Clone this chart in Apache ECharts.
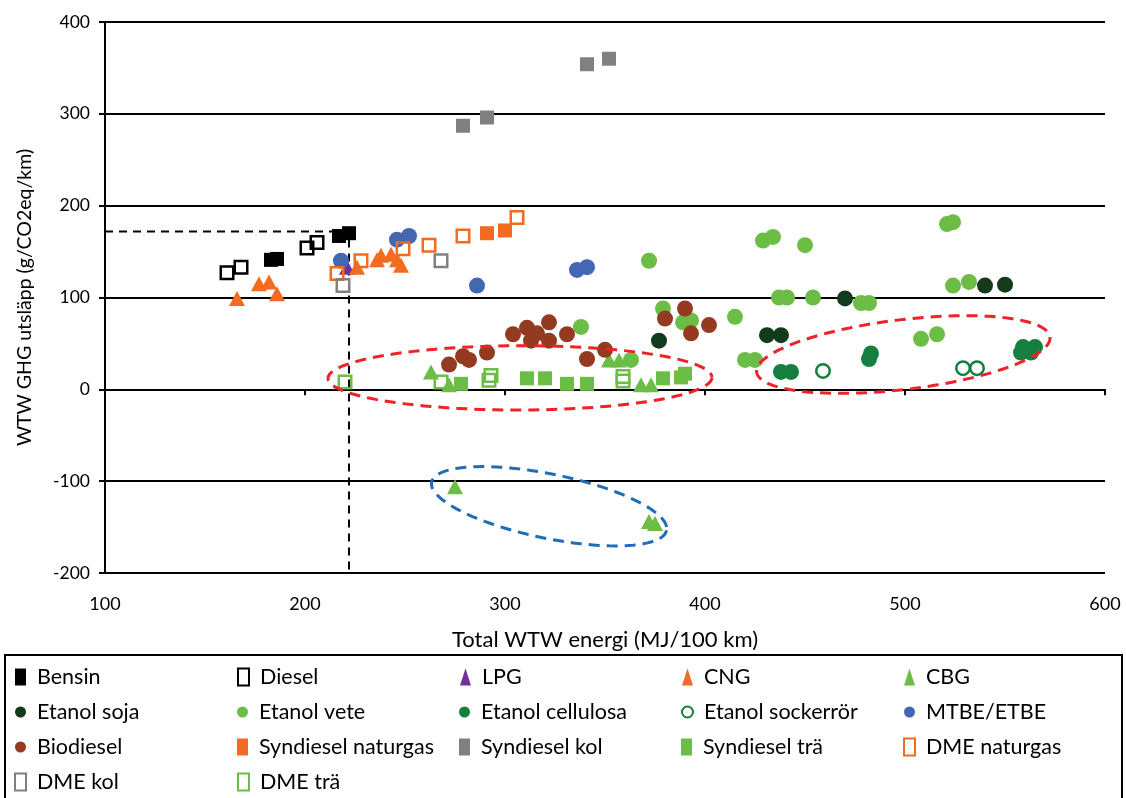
<!DOCTYPE html>
<html><head><meta charset="utf-8">
<script src="https://cdn.jsdelivr.net/npm/echarts@6/dist/echarts.min.js"></script>
<style>html,body{margin:0;padding:0;background:#fff}#c{width:1126px;height:798px}</style>
</head><body><div id="c"></div>
<script>
// ---- data (x: Total WTW energi MJ/100km, y: WTW GHG g CO2eq/km) ----
const bensin = [[183,141],[186,142],[217,167],[222,170]];
const diesel = [[161,127],[168,133],[201,154],[206,160]];
const lpg = [[221,133]];
const cng = [[166,99],[177,115],[182,117],[186,104],[226,133],[236,141],[238,146],[243,147],[246,141],[248,135]];
const cbg = [[263,19],[272,5],[352,32],[357,32],[368,5],[373,5],[275,-106],[372,-144],[375,-146]];
const etanolSoja = [[377,53],[431,59],[438,59],[470,99],[540,113],[550,114]];
const etanolVete = [[338,68],[363,32],[372,140],[379,88],[389,73],[393,75],[415,79],[420,32],[425,32],[429,162],[434,166],[450,157],[437,100],[441,100],[454,100],[478,94],[482,94],[521,180],[524,182],[524,113],[532,117],[508,55],[516,60]];
const etanolCellulosa = [[438,19],[443,19],[482,33],[483,39],[558,40],[559,46],[565,46],[563,40]];
const etanolSockerror = [[459,20],[529,23],[536,23]];
const mtbe = [[218,140],[246,163],[252,167],[286,113],[336,130],[341,133]];
const biodiesel = [[272,27],[279,36],[282,32],[291,40],[304,60],[311,67],[313,53],[316,61],[322,73],[322,53],[331,60],[341,33],[350,43],[380,77],[390,88],[393,61],[402,70]];
const syndieselNaturgas = [[291,170],[300,173]];
const syndieselKol = [[279,287],[291,296],[341,354],[352,360]];
const syndieselTra = [[278,6],[311,12],[320,12],[331,6],[341,6],[379,12],[388,13],[390,17]];
const dmeNaturgas = [[216,126],[228,140],[249,153],[262,157],[279,167],[306,187]];
const dmeKol = [[219,113],[268,140]];
const dmeTra = [[220,8],[268,8],[292,10],[293,15],[359,9],[359,14]];
// reference (dashed) line through the diesel/bensin level
const refLine = [[100,172],[222,172],[222,-200]];
// annotation ellipses: [x1,y1,x2,y2,halfWidthInYUnits] (major-axis ends)
const redEllipses = [[211.5,12,403.5,13,35],[425.8,18.8,572.5,57,38]];
const blueEllipses = [[263.3,-101,380.8,-153.6,35]];
const xTicks = [100,200,300,400,500,600];
const yTicks = [-200,-100,0,100,200,300,400];

const FONT = 'Lato';
const ORANGE='#F36A21', LGREEN='#6CBD45', DGREEN='#143A1C', MGREEN='#157F3F', BLUE='#4467B3', BROWN='#933A20', GRAY='#808080', PURPLE='#7030A0';

function sc(name, data, symbol, size, fill, border){
  return {name, type:'scatter', data, symbol, symbolSize:size,
    itemStyle: border ? {color:'rgba(255,255,255,0)', borderColor:border, borderWidth:2.5, opacity:1}
                      : {color:fill, opacity:1},
    emphasis:{disabled:true}};
}
const SQ=14, CI=16, TR=[16,15], OSQ=12.5, OCI=13.5;
const series = [
  sc('Bensin', bensin, 'rect', SQ, '#000'),
  sc('Diesel', diesel, 'rect', OSQ, null, '#000'),
  sc('LPG', lpg, 'triangle', TR, PURPLE),
  sc('CNG', cng, 'triangle', TR, ORANGE),
  sc('CBG', cbg, 'triangle', TR, LGREEN),
  sc('Etanol soja', etanolSoja, 'circle', CI, DGREEN),
  sc('Etanol vete', etanolVete, 'circle', CI, LGREEN),
  sc('Etanol cellulosa', etanolCellulosa, 'circle', CI, MGREEN),
  sc('Etanol sockerrör', etanolSockerror, 'circle', OCI, null, MGREEN),
  sc('MTBE/ETBE', mtbe, 'circle', CI, BLUE),
  sc('Biodiesel', biodiesel, 'circle', CI, BROWN),
  sc('Syndiesel naturgas', syndieselNaturgas, 'rect', SQ, ORANGE),
  sc('Syndiesel kol', syndieselKol, 'rect', SQ, GRAY),
  sc('Syndiesel trä', syndieselTra, 'rect', SQ, LGREEN),
  sc('DME naturgas', dmeNaturgas, 'rect', OSQ, null, ORANGE),
  sc('DME kol', dmeKol, 'rect', OSQ, null, GRAY),
  sc('DME trä', dmeTra, 'rect', OSQ, null, LGREEN)
];
const legendData = series.map(s=>({name:s.name, icon:s.symbol}));

series.push({type:'line', name:'ref', data:refLine, symbol:'none', silent:true, z:1,
  lineStyle:{color:'#000', width:2, type:[8,6]}});

function ellipseSeries(data, color){
  return {type:'custom', name:'ell', data, silent:true, z:5, clip:false,
    encode:{x:[0,2], y:[1,3]},
    renderItem(params, api){
      const p1 = api.coord([api.value(0), api.value(1)]);
      const p2 = api.coord([api.value(2), api.value(3)]);
      const b = api.size([0, api.value(4)])[1];
      const cx=(p1[0]+p2[0])/2, cy=(p1[1]+p2[1])/2;
      const dx=p2[0]-p1[0], dy=p2[1]-p1[1];
      const a=Math.sqrt(dx*dx+dy*dy)/2, th=Math.atan2(dy,dx);
      const pts=[];
      for(let i=0;i<=96;i++){const t=Math.PI*2*i/96;
        pts.push([cx+a*Math.cos(t)*Math.cos(th)-b*Math.sin(t)*Math.sin(th),
                  cy+a*Math.cos(t)*Math.sin(th)+b*Math.sin(t)*Math.cos(th)]);}
      return {type:'polyline', shape:{points:pts},
        style:{fill:null, stroke:color, lineWidth:3, lineDash:[11,7]}};
    }};
}
series.push(ellipseSeries(redEllipses, '#EE2228'));
series.push(ellipseSeries(blueEllipses, '#1F6DB8'));

const chart = echarts.init(document.getElementById('c'), null, {renderer:'canvas'});
chart.setOption({
  animation:false,
  textStyle:{fontFamily:FONT},
  grid:{left:105, right:21, top:22, bottom:225, containLabel:false},
  xAxis:{type:'value', min:xTicks[0], max:xTicks[xTicks.length-1], interval:100,
    name:'Total WTW energi (MJ/100 km)', nameLocation:'middle', nameGap:56,
    nameTextStyle:{fontFamily:FONT, fontSize:22, color:'#000'},
    axisLine:{lineStyle:{color:'#000', width:2}},
    axisTick:{show:true, length:6, lineStyle:{color:'#000', width:2}},
    axisLabel:{fontFamily:FONT, fontSize:18, color:'#000', margin:22},
    splitLine:{show:false}},
  yAxis:{type:'value', min:yTicks[0], max:yTicks[yTicks.length-1], interval:100,
    name:'WTW GHG utsläpp (g/CO2eq/km)', nameLocation:'middle', nameGap:70, nameRotate:90,
    nameTextStyle:{fontFamily:FONT, fontSize:19.5, color:'#000'},
    axisLine:{show:true, lineStyle:{color:'#000', width:2}},
    axisTick:{show:true, length:6, lineStyle:{color:'#000', width:2}},
    axisLabel:{fontFamily:FONT, fontSize:17.5, color:'#000', margin:15},
    splitLine:{show:true, lineStyle:{color:'#000', width:2}}},
  legend:{data:legendData, left:5, top:655, width:1113, orient:'horizontal',
    padding:[11,9,40,9], borderColor:'#000', borderWidth:2,
    itemWidth:11, itemHeight:17, itemGap:13, symbolKeepAspect:false,
    itemStyle:{borderWidth:2},
    textStyle:{fontFamily:FONT, fontSize:21.5, color:'#000', width:187, height:22, lineHeight:22, padding:[0,0,0,6]},
    selectedMode:false},
  series
});
</script></body></html>
